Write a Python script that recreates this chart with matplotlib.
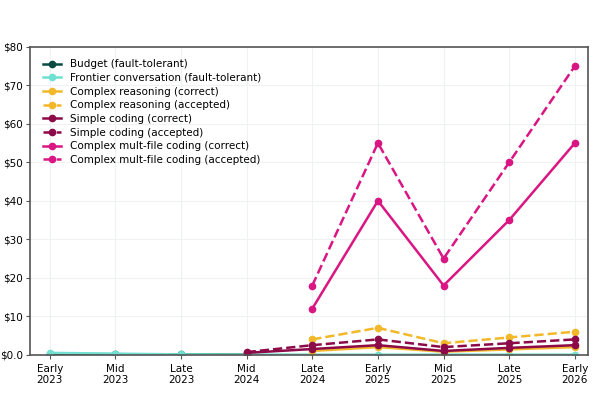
import matplotlib
matplotlib.use("Agg")
import matplotlib.pyplot as plt
import numpy as np

periods = ["Early\n2023", "Mid\n2023", "Late\n2023", "Mid\n2024", "Late\n2024",
           "Early\n2025", "Mid\n2025", "Late\n2025", "Early\n2026"]

nan = np.nan
budget = [0.2, 0.15, 0.1, 0.05, nan, nan, nan, nan, nan]
frontier = [0.5, 0.3, 0.1, 0.05, nan, 0.05, nan, 0.05, 0.05]
reasoning_correct = [nan, nan, nan, nan, 1.0, 2.0, 0.8, 1.4, 2.0]
reasoning_accepted = [nan, nan, nan, nan, 4.0, 7.0, 3.0, 4.5, 6.0]
simple_correct = [nan, nan, nan, 0.5, 1.5, 2.5, 1.0, 1.8, 2.5]
simple_accepted = [nan, nan, nan, 0.7, 2.5, 4.0, 2.0, 3.0, 4.0]
multi_correct = [nan, nan, nan, nan, 12, 40, 18, 35, 55]
multi_accepted = [nan, nan, nan, nan, 18, 55, 25, 50, 75]

series = [
    ("Budget (fault-tolerant)", budget, "#0b4a42", "-"),
    ("Frontier conversation (fault-tolerant)", frontier, "#6fe0d2", "-"),
    ("Complex reasoning (correct)", reasoning_correct, "#f2b829", "-"),
    ("Complex reasoning (accepted)", reasoning_accepted, "#f2b829", "--"),
    ("Simple coding (correct)", simple_correct, "#8c0a48", "-"),
    ("Simple coding (accepted)", simple_accepted, "#8c0a48", "--"),
    ("Complex mult-file coding (correct)", multi_correct, "#d91682", "-"),
    ("Complex mult-file coding (accepted)", multi_accepted, "#d91682", "--"),
]

fig, ax = plt.subplots(figsize=(6, 4), dpi=100)
x = np.arange(len(periods))
for label, vals, color, ls in series:
    v = np.array(vals, dtype=float)
    m = ~np.isnan(v)
    ax.plot(x[m], v[m], ls, color=color, marker="o", markersize=4.5,
            linewidth=1.8, label=label)

ax.set_xticks(x)
ax.set_xticklabels(periods, fontsize=7.5)
ax.set_xlim(-0.3, 8.2)
ax.set_ylim(0, 80)
ax.set_yticks(np.arange(0, 81, 10))
ax.set_yticklabels(["$0.0"] + [f"${v}" for v in range(10, 81, 10)], fontsize=7.5)
ax.grid(True, color="#eef2f2", linewidth=0.8)
for s in ax.spines.values():
    s.set_color("#555555")
    s.set_linewidth(1.2)
ax.tick_params(length=3, color="#555555")
ax.tick_params(axis="y", pad=2)
ax.legend(loc="upper left", frameon=False, fontsize=7.5, handlelength=1.8,
          labelspacing=0.35, borderaxespad=0.8)

fig.subplots_adjust(left=0.05, right=0.98, top=0.883, bottom=0.113)
fig.savefig("out.png")
